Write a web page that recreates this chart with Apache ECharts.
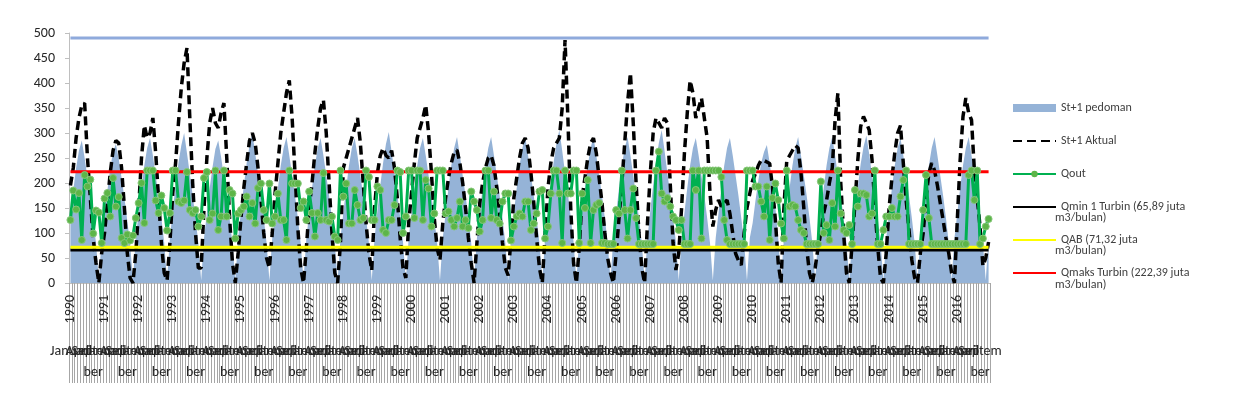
<!DOCTYPE html>
<html>
<head>
<meta charset="utf-8">
<script src="https://cdn.jsdelivr.net/npm/echarts@6/dist/echarts.min.js"></script>
<style>
  html, body { margin: 0; padding: 0; background: #fff; }
  #chart { width: 1237px; height: 403px; }
</style>
</head>
<body>
<div id="chart"></div>
<script>
// kategori bulanan 1990 - 2016
const years = [1990, 1991, 1992, 1993, 1994, 1995, 1996, 1997, 1998, 1999, 2000, 2001, 2002, 2003,
  2004, 2005, 2006, 2007, 2008, 2009, 2010, 2011, 2012, 2013, 2014, 2015, 2016];
const monthNames = ['Januari', 'Februari', 'Maret', 'April', 'Mei', 'Juni', 'Juli', 'Agustus',
  'September', 'Oktober', 'November', 'Desember'];
const yTicks = [0, 50, 100, 150, 200, 250, 300, 350, 400, 450, 500];

// St+1 pedoman (satu baris per tahun)
const pedomanRows = [
  [140, 185, 230, 265, 285, 250, 210, 170, 125, 80, 5, 90],
  [135, 185, 230, 262, 278, 248, 210, 170, 125, 78, 5, 92],
  [140, 190, 235, 270, 290, 255, 215, 175, 130, 80, 5, 90],
  [145, 195, 240, 275, 300, 260, 218, 176, 130, 80, 5, 90],
  [140, 190, 232, 268, 285, 252, 212, 172, 128, 80, 5, 90],
  [145, 195, 240, 275, 300, 260, 218, 176, 130, 80, 5, 90],
  [140, 190, 235, 270, 292, 255, 215, 175, 130, 80, 5, 90],
  [140, 190, 235, 270, 290, 255, 215, 175, 130, 80, 5, 90],
  [140, 190, 235, 270, 290, 255, 215, 175, 130, 80, 5, 90],
  [145, 195, 240, 278, 302, 262, 220, 178, 132, 82, 5, 90],
  [140, 190, 235, 270, 290, 255, 215, 175, 130, 80, 5, 90],
  [140, 190, 235, 270, 292, 255, 215, 175, 130, 80, 5, 90],
  [140, 190, 235, 270, 292, 255, 215, 175, 130, 80, 5, 90],
  [140, 190, 235, 270, 292, 255, 215, 175, 130, 80, 5, 90],
  [145, 195, 242, 280, 306, 265, 220, 178, 132, 82, 5, 90],
  [140, 190, 235, 270, 292, 255, 215, 175, 130, 80, 5, 90],
  [140, 190, 235, 270, 292, 255, 215, 175, 130, 80, 5, 90],
  [145, 195, 242, 280, 306, 265, 220, 178, 132, 82, 5, 90],
  [140, 190, 235, 270, 290, 255, 215, 175, 130, 80, 5, 90],
  [140, 190, 235, 270, 290, 255, 215, 175, 130, 80, 5, 90],
  [120, 165, 205, 240, 262, 276, 240, 195, 150, 90, 5, 90],
  [140, 190, 235, 270, 292, 255, 215, 175, 130, 80, 5, 90],
  [140, 190, 235, 270, 292, 255, 215, 175, 130, 80, 5, 90],
  [145, 192, 238, 272, 295, 258, 216, 176, 130, 80, 5, 90],
  [140, 190, 235, 270, 290, 255, 215, 175, 130, 80, 5, 90],
  [140, 190, 235, 270, 292, 255, 215, 175, 130, 80, 5, 90],
  [140, 190, 235, 270, 292, 255, 215, 175, 130, 80, 5, 90]
];

// St+1 Aktual
const aktualRows = [
  [195, 230, 290, 330, 355, 360, 250, 170, 90, 40, 0, 60],
  [100, 160, 220, 265, 285, 280, 230, 150, 60, 10, 0, 60],
  [150, 250, 315, 290, 300, 330, 260, 170, 80, 20, 5, 80],
  [180, 240, 320, 390, 440, 470, 330, 200, 100, 30, 30, 150],
  [250, 320, 350, 320, 310, 340, 360, 250, 130, 40, 0, 60],
  [130, 190, 240, 285, 300, 280, 230, 170, 100, 50, 30, 100],
  [180, 240, 300, 340, 380, 405, 330, 220, 110, 30, 0, 70],
  [150, 200, 260, 310, 350, 366, 300, 200, 100, 20, 0, 80],
  [230, 250, 270, 290, 310, 330, 280, 200, 120, 60, 25, 150],
  [220, 255, 270, 255, 250, 265, 230, 170, 90, 30, 10, 120],
  [180, 240, 290, 310, 330, 356, 300, 220, 130, 70, 46, 120],
  [170, 210, 240, 262, 266, 240, 200, 150, 90, 40, 0, 80],
  [160, 200, 230, 250, 255, 235, 190, 140, 80, 30, 15, 90],
  [170, 210, 250, 280, 290, 270, 220, 160, 90, 30, 0, 100],
  [190, 240, 270, 280, 290, 350, 486, 330, 150, 40, 0, 70],
  [170, 210, 250, 280, 290, 260, 210, 160, 100, 50, 20, 0],
  [60, 130, 200, 280, 360, 420, 320, 200, 100, 30, 0, 120],
  [220, 300, 330, 320, 310, 330, 320, 200, 80, 26, 60, 150],
  [260, 340, 405, 380, 330, 350, 370, 330, 290, 180, 113, 146],
  [166, 153, 160, 166, 139, 99, 59, 45, 36, 99, 150, 179],
  [205, 219, 235, 246, 245, 242, 239, 190, 126, 40, 0, 150],
  [245, 255, 265, 275, 270, 220, 150, 70, 20, 0, 30, 71],
  [100, 140, 165, 200, 230, 326, 380, 200, 100, 20, 0, 80],
  [160, 246, 313, 333, 320, 306, 246, 153, 73, 10, 0, 60],
  [150, 210, 260, 300, 315, 240, 166, 106, 46, 10, 0, 60],
  [100, 170, 220, 240, 225, 195, 160, 126, 90, 59, 20, 0],
  [126, 246, 333, 370, 340, 326, 226, 170, 113, 34, 50, 82]
];

// Qout
const qoutRows = [
  [126, 185, 147, 180, 86, 216, 193, 207, 99, 145, 141, 80],
  [169, 180, 133, 210, 153, 172, 90, 80, 97, 85, 95, 130],
  [160, 200, 120, 225, 225, 225, 165, 140, 175, 150, 105, 140],
  [225, 225, 163, 160, 165, 222, 146, 140, 146, 113, 133, 210],
  [222, 126, 139, 225, 106, 133, 225, 133, 186, 179, 89, 139],
  [146, 153, 173, 133, 160, 119, 190, 199, 146, 126, 199, 119],
  [133, 179, 126, 126, 86, 225, 199, 199, 199, 150, 163, 126],
  [183, 140, 93, 140, 126, 220, 126, 123, 133, 93, 86, 225],
  [173, 199, 119, 119, 186, 156, 126, 130, 225, 212, 126, 126],
  [193, 186, 106, 100, 126, 126, 156, 225, 222, 100, 133, 225],
  [225, 130, 225, 225, 126, 206, 189, 113, 139, 225, 225, 225],
  [139, 143, 126, 113, 130, 163, 113, 126, 110, 183, 163, 146],
  [103, 126, 225, 225, 130, 183, 126, 119, 163, 179, 179, 85],
  [113, 133, 139, 133, 163, 163, 106, 119, 139, 183, 186, 89],
  [113, 179, 225, 225, 179, 80, 225, 179, 179, 225, 225, 80],
  [179, 150, 206, 80, 146, 156, 160, 80, 80, 78, 78, 78],
  [146, 139, 225, 146, 89, 146, 189, 130, 78, 78, 78, 78],
  [78, 78, 225, 263, 179, 163, 170, 153, 133, 126, 106, 126],
  [78, 78, 78, 225, 186, 225, 89, 225, 225, 225, 225, 225],
  [225, 212, 126, 86, 78, 78, 78, 78, 78, 78, 225, 225],
  [225, 193, 193, 163, 133, 193, 86, 170, 199, 166, 119, 89],
  [225, 153, 156, 153, 126, 106, 100, 78, 78, 78, 78, 78],
  [203, 100, 116, 86, 160, 113, 225, 139, 106, 100, 116, 78],
  [186, 153, 179, 179, 176, 133, 139, 225, 78, 78, 106, 133],
  [133, 150, 133, 133, 173, 206, 225, 78, 78, 78, 78, 78],
  [146, 216, 130, 78, 78, 78, 78, 78, 78, 78, 78, 78],
  [78, 78, 78, 78, 216, 225, 166, 225, 78, 89, 113, 128]
];

const stMaks = 490;
const qMin = 65.89;
const qAB = 71.32;
const qMaks = 222.39;

const FONT = 'Carlito, Lato, "Liberation Sans", sans-serif';

const categories = years.flatMap(y => monthNames.map(m => y + ' ' + m));
const pedoman = pedomanRows.flat();
const aktual = aktualRows.flat();
const qout = qoutRows.flat();
const flatLine = v => categories.map(() => v);

const chart = echarts.init(document.getElementById('chart'));

// legend garis tanpa titik
const noDot = { opacity: 0 };

chart.setOption({
  animation: false,
  backgroundColor: '#fff',
  textStyle: { fontFamily: FONT },
  grid: { left: 69, right: 247, top: 33, bottom: 120 },
  legend: {
    orient: 'vertical',
    left: 1007,
    top: 95,
    itemWidth: 43,
    itemHeight: 8,
    itemGap: 17,
    textStyle: { fontSize: 12, lineHeight: 16, color: '#404040', fontFamily: FONT },
    formatter: name => name.replace(' m3/bulan)', ''),
    data: [
      { name: 'St+1 pedoman', icon: 'rect' },
      { name: 'St+1 Aktual', itemStyle: noDot },
      { name: 'Qout', itemStyle: { borderWidth: 0 } },
      { name: 'Qmin 1 Turbin (65,89 juta m3/bulan)', itemStyle: noDot },
      { name: 'QAB (71,32 juta m3/bulan)', itemStyle: noDot },
      { name: 'Qmaks Turbin (222,39 juta m3/bulan)', itemStyle: noDot }
    ]
  },
  graphic: [
    { type: 'text', left: 1055, top: 212, style: { text: 'm3/bulan)', font: '12px ' + FONT, fill: '#404040' } },
    { type: 'text', left: 1055, top: 245, style: { text: 'm3/bulan)', font: '12px ' + FONT, fill: '#404040' } },
    { type: 'text', left: 1055, top: 279, style: { text: 'm3/bulan)', font: '12px ' + FONT, fill: '#404040' } }
  ],
  xAxis: [
    {
      type: 'category',
      data: categories,
      boundaryGap: true,
      axisLine: { lineStyle: { color: '#BFBFBF' } },
      axisTick: { show: true, interval: 0, length: 100, lineStyle: { color: '#A6A6A6', width: 1 } },
      axisLabel: {
        interval: 0,
        rotate: 90,
        margin: 12,
        fontSize: 14,
        color: '#262626',
        fontFamily: FONT,
        formatter: (v, i) => (i % 12 === 0 ? v.split(' ')[0] : '')
      }
    },
    {
      type: 'category',
      data: categories,
      position: 'bottom',
      boundaryGap: true,
      axisLine: { show: false },
      axisTick: { show: false },
      axisLabel: {
        interval: 0,
        margin: 58,
        fontSize: 14,
        lineHeight: 21,
        color: '#262626',
        fontFamily: FONT,
        formatter: (v, i) => {
          const m = i % 12;
          if (m === 0) return 'Januari';
          if (m === 3) return 'April';
          if (m === 8) return 'Septem\nber';
          return '';
        }
      }
    }
  ],
  yAxis: {
    type: 'value',
    min: yTicks[0],
    max: yTicks[yTicks.length - 1],
    interval: 50,
    axisLine: { show: true, lineStyle: { color: '#BFBFBF' } },
    axisTick: { show: true, length: 4, lineStyle: { color: '#BFBFBF' } },
    splitLine: { show: false },
    axisLabel: { fontSize: 14, color: '#262626', margin: 14, fontFamily: FONT }
  },
  series: [
    {
      name: 'St+1 pedoman',
      type: 'line',
      data: pedoman,
      symbol: 'none',
      lineStyle: { width: 0, color: '#95B3D7' },
      itemStyle: { color: '#95B3D7' },
      areaStyle: { color: '#95B3D7', opacity: 1 }
    },
    {
      name: 'St maks',
      type: 'line',
      data: flatLine(stMaks),
      symbol: 'none',
      lineStyle: { width: 3, color: '#8FAADC' },
      itemStyle: { color: '#8FAADC' }
    },
    {
      name: 'St+1 Aktual',
      type: 'line',
      data: aktual,
      symbol: 'none',
      lineStyle: { width: 3.5, color: '#000', type: [9, 5] },
      itemStyle: { color: '#000' }
    },
    {
      name: 'Qout',
      type: 'line',
      data: qout,
      symbol: 'circle',
      symbolSize: 7,
      showAllSymbol: true,
      lineStyle: { width: 3, color: '#00B050' },
      itemStyle: { color: '#5DB548', borderColor: '#86C77A', borderWidth: 1 }
    },
    {
      name: 'Qmin 1 Turbin (65,89 juta m3/bulan)',
      type: 'line',
      data: flatLine(qMin),
      symbol: 'none',
      lineStyle: { width: 3, color: '#000' },
      itemStyle: { color: '#000' }
    },
    {
      name: 'QAB (71,32 juta m3/bulan)',
      type: 'line',
      data: flatLine(qAB),
      symbol: 'none',
      lineStyle: { width: 3, color: '#FFFF00' },
      itemStyle: { color: '#FFFF00' }
    },
    {
      name: 'Qmaks Turbin (222,39 juta m3/bulan)',
      type: 'line',
      data: flatLine(qMaks),
      symbol: 'none',
      lineStyle: { width: 3, color: '#FF0000' },
      itemStyle: { color: '#FF0000' }
    }
  ]
});
</script>
</body>
</html>
